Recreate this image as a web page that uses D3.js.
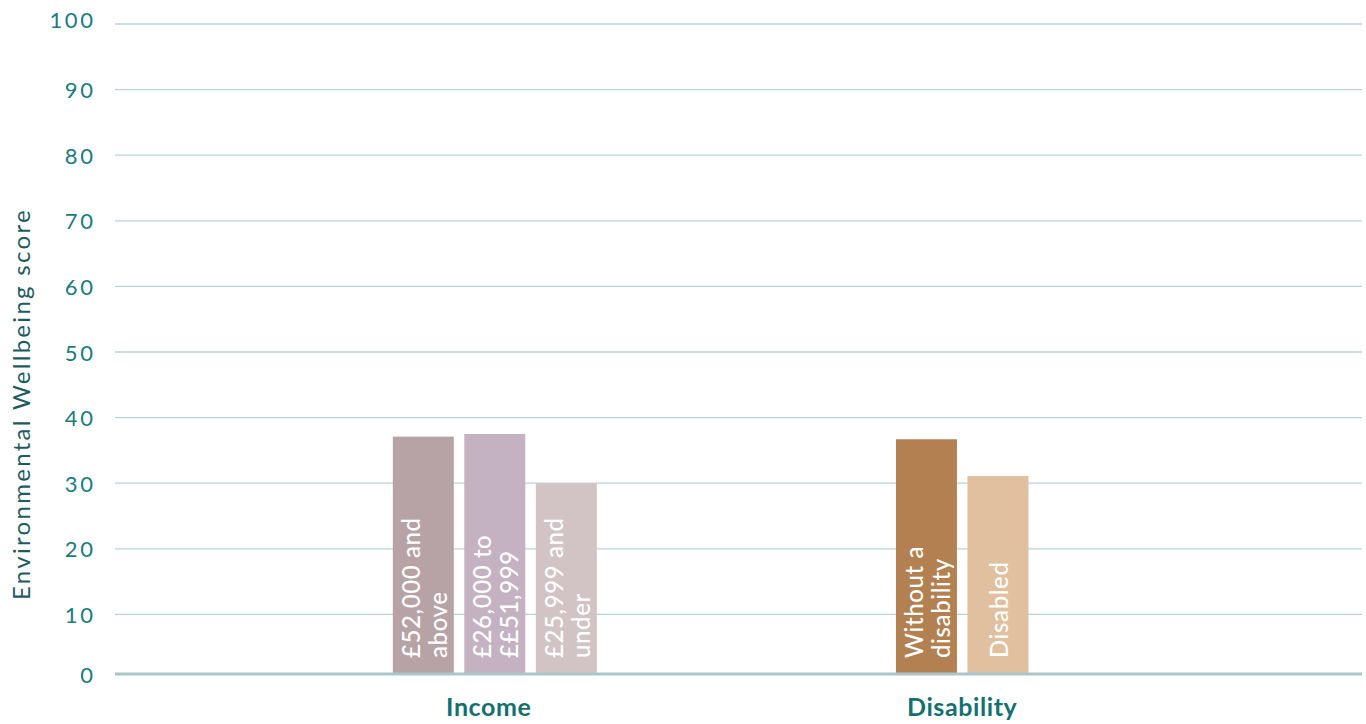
<!DOCTYPE html>
<html>
<head>
<meta charset="utf-8">
<script src="https://cdn.jsdelivr.net/npm/d3@7"></script>
<style>
  html, body { margin: 0; padding: 0; background: #ffffff; }
  svg { display: block; }
</style>
</head>
<body>
<svg id="chart" width="1366" height="724"></svg>
<script>
// Environmental Wellbeing score by income and disability
const groups = ["Income", "Disability"];

const incomeLabels = ["£52,000 and\nabove", "£26,000 to\n££51,999", "£25,999 and\nunder"];
const incomeValues = [37.1, 37.5, 30.0];
const incomeColors = ["#b7a3a6", "#c4b2c2", "#d2c4c4"];

const disabilityLabels = ["Without a\ndisability", "Disabled"];
const disabilityValues = [36.7, 31.1];
const disabilityColors = ["#b38151", "#e0c09e"];

const yTicks = [0, 10, 20, 30, 40, 50, 60, 70, 80, 90, 100];
const yTitle = "Environmental Wellbeing score";

const series = {
  Income: incomeLabels.map((l, i) => ({ label: l, value: incomeValues[i], color: incomeColors[i] })),
  Disability: disabilityLabels.map((l, i) => ({ label: l, value: disabilityValues[i], color: disabilityColors[i] }))
};

const svg = d3.select("#chart");
const plotLeft = 115, plotRight = 1362;
const fontFamily = "Lato, 'Open Sans', sans-serif";

const y = d3.scaleLinear().domain([0, 100]).range([680, 24]);
const baseY = y(0) - 6; // baseline drawn slightly above the zero position

const x0 = d3.scaleBand().domain(groups).range([105, 1352]).paddingInner(0).paddingOuter(0.334);
const slotStep = 71.5;
const slotPad = 0.147;

// gridlines
svg.append("g").selectAll("line")
  .data(yTicks.filter(t => t > 0))
  .join("line")
  .attr("x1", plotLeft).attr("x2", plotRight)
  .attr("y1", d => y(d)).attr("y2", d => y(d))
  .attr("stroke", "#b9d4d7").attr("stroke-width", 1.3);

// tick labels
const tickSpacing = 2.6;
svg.append("g").selectAll("text")
  .data(yTicks)
  .join("text")
  .attr("x", 93 + tickSpacing)
  .attr("y", d => d === 0 ? baseY : y(d) - (d === 100 ? 5 : 0))
  .attr("text-anchor", "end")
  .attr("dominant-baseline", "central")
  .attr("font-family", fontFamily)
  .attr("font-size", 22)
  .attr("letter-spacing", tickSpacing)
  .attr("fill", "#1a7b80")
  .text(d => d);

// axis title
svg.append("text")
  .attr("transform", `translate(20,${(208 + 600) / 2}) rotate(-90)`)
  .attr("text-anchor", "middle")
  .attr("dominant-baseline", "central")
  .attr("font-family", fontFamily)
  .attr("font-size", 24)
  .attr("letter-spacing", 2.3)
  .attr("fill", "#1d5b61")
  .text(yTitle);

// bars per group
groups.forEach(g => {
  const data = series[g];
  const c = x0(g) + x0.bandwidth() / 2;
  const n = data.length;
  const x1 = d3.scaleBand()
    .domain(d3.range(n))
    .range([c - n * slotStep / 2, c + n * slotStep / 2])
    .paddingInner(slotPad).paddingOuter(slotPad / 2);

  const gg = svg.append("g");
  gg.selectAll("rect")
    .data(data)
    .join("rect")
    .attr("x", (d, i) => x1(i))
    .attr("width", x1.bandwidth())
    .attr("y", d => y(d.value))
    .attr("height", d => baseY - y(d.value))
    .attr("fill", d => d.color);

  // rotated labels inside bars
  data.forEach((d, i) => {
    const lines = d.label.split("\n");
    const cx = x1(i) + x1.bandwidth() / 2;
    const t = gg.append("text")
      .attr("transform", `translate(${cx},${baseY - 16}) rotate(-90)`)
      .attr("font-family", fontFamily)
      .attr("font-weight", 500)
      .attr("font-size", 24)
      .attr("letter-spacing", 0.6)
      .attr("fill", "#ffffff")
      .attr("text-anchor", "start")
      .attr("dominant-baseline", "central");
    lines.forEach((ln, k) => {
      t.append("tspan")
        .attr("x", 0)
        .attr("y", (k - (lines.length - 1) / 2) * 27)
        .text(ln);
    });
  });

  // category label
  svg.append("text")
    .attr("x", c - (g === "Income" ? 6 : 0))
    .attr("y", 716)
    .attr("text-anchor", "middle")
    .attr("font-family", fontFamily)
    .attr("font-weight", 700)
    .attr("font-size", 25)
    .attr("letter-spacing", 0.6)
    .attr("fill", "#14706f")
    .text(g);
});

// baseline
svg.append("line")
  .attr("x1", plotLeft).attr("x2", plotRight)
  .attr("y1", baseY).attr("y2", baseY)
  .attr("stroke", "#a9c6ca").attr("stroke-width", 3);
</script>
</body>
</html>
